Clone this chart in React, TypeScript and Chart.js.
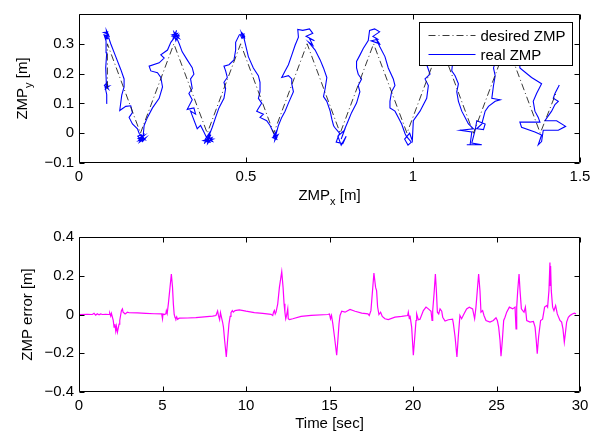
import React, { useEffect, useRef } from "react";
import { Chart, registerables } from "chart.js";

Chart.register(...registerables);

const FONT = "'Liberation Sans', Arial, Helvetica, sans-serif";
const FS = 15;

// ---------- top plot: ZMP trajectory ----------
const zmpXTicks = [0, 0.5, 1, 1.5];
const zmpYTicks = [-0.1, 0, 0.1, 0.2, 0.3];
const legendLabels = ["desired ZMP", "real ZMP"];

const desiredX = [0.085, 0.085, 0.184, 0.284, 0.384, 0.484, 0.583, 0.683, 0.782, 0.882, 0.982, 1.082, 1.181, 1.281, 1.381, 1.43];
const desiredY = [0.15, 0.3, 0, 0.3, 0, 0.3, 0, 0.3, 0, 0.3, 0, 0.3, 0, 0.3, 0, 0.14];

const realZmp: [number, number][] = [
  [0.082, 0.100], [0.083, 0.130], [0.078, 0.155], [0.090, 0.158], [0.080, 0.150], [0.086, 0.165], [0.079, 0.145], [0.084, 0.170],
  [0.076, 0.160], [0.088, 0.148], [0.082, 0.162],
  [0.080, 0.220], [0.083, 0.270], [0.081, 0.310], [0.075, 0.330], [0.090, 0.325], [0.082, 0.345], [0.085, 0.318], [0.078, 0.322], [0.088, 0.332],
  [0.074, 0.338], [0.086, 0.340], [0.080, 0.315], [0.089, 0.320],
  [0.095, 0.300], [0.110, 0.257], [0.125, 0.214], [0.135, 0.182], [0.135, 0.155], [0.128, 0.128], [0.122, 0.076], [0.140, 0.090],
  [0.155, 0.092], [0.160, 0.069], [0.150, 0.053], [0.160, 0.031], [0.175, 0.015],
  [0.180, 0.000], [0.192, -0.020], [0.178, -0.025], [0.195, -0.008], [0.183, -0.015], [0.198, -0.022], [0.186, -0.005],
  [0.176, -0.010], [0.190, -0.028], [0.200, -0.015], [0.181, -0.030], [0.195, 0.000], [0.188, -0.025], [0.177, -0.018], [0.192, -0.010],
  [0.195, 0.026], [0.205, 0.053], [0.220, 0.085], [0.240, 0.117], [0.250, 0.155], [0.245, 0.187], [0.235, 0.203], [0.215, 0.209],
  [0.210, 0.225], [0.240, 0.236], [0.255, 0.252], [0.245, 0.263], [0.265, 0.279], [0.275, 0.305],
  [0.285, 0.320], [0.295, 0.335], [0.278, 0.330], [0.300, 0.318], [0.284, 0.340], [0.290, 0.310], [0.298, 0.330], [0.282, 0.318],
  [0.292, 0.345], [0.287, 0.325], [0.302, 0.326], [0.280, 0.324], [0.294, 0.316],
  [0.300, 0.300], [0.309, 0.273], [0.324, 0.246], [0.339, 0.220], [0.344, 0.198], [0.334, 0.182], [0.339, 0.150], [0.329, 0.133],
  [0.339, 0.112], [0.324, 0.080], [0.344, 0.085], [0.349, 0.064], [0.334, 0.074], [0.354, 0.015], [0.364, 0.026], [0.374, 0.004],
  [0.380, -0.010], [0.392, -0.030], [0.372, -0.025], [0.398, -0.015], [0.385, -0.035], [0.390, 0.000], [0.378, -0.020], [0.400, -0.028], [0.388, -0.010],
  [0.375, -0.035], [0.395, -0.005], [0.383, -0.028], [0.402, -0.020], [0.386, -0.018],
  [0.399, 0.020], [0.409, 0.053], [0.419, 0.085], [0.434, 0.117], [0.439, 0.150], [0.434, 0.171], [0.444, 0.187], [0.439, 0.209],
  [0.434, 0.225], [0.449, 0.230], [0.464, 0.246], [0.469, 0.279], [0.469, 0.305],
  [0.480, 0.330], [0.490, 0.335], [0.496, 0.325], [0.488, 0.318], [0.484, 0.328], [0.494, 0.332], [0.490, 0.322],
  [0.486, 0.338], [0.497, 0.318], [0.492, 0.328],
  [0.507, 0.257], [0.522, 0.219], [0.537, 0.193], [0.542, 0.171], [0.542, 0.139], [0.537, 0.117], [0.547, 0.101], [0.532, 0.074],
  [0.552, 0.064], [0.542, 0.053], [0.562, 0.042], [0.572, 0.026],
  [0.585, -0.005], [0.592, -0.020], [0.580, -0.015], [0.596, -0.005], [0.586, -0.025], [0.590, 0.005], [0.582, -0.010],
  [0.594, -0.015], [0.588, -0.012],
  [0.597, 0.026], [0.607, 0.053], [0.617, 0.074], [0.627, 0.101], [0.642, 0.139], [0.637, 0.166], [0.637, 0.182], [0.627, 0.193],
  [0.607, 0.187], [0.617, 0.209], [0.627, 0.230], [0.637, 0.262], [0.647, 0.295], [0.657, 0.322],
  [0.655, 0.348], [0.670, 0.345], [0.690, 0.350], [0.700, 0.335], [0.680, 0.325], [0.705, 0.310], [0.690, 0.318], [0.700, 0.295], [0.688, 0.305],
  [0.707, 0.279], [0.722, 0.246], [0.732, 0.219], [0.742, 0.187], [0.737, 0.150], [0.732, 0.123], [0.742, 0.107], [0.752, 0.074],
  [0.757, 0.047], [0.762, 0.026],
  [0.765, 0.020], [0.780, 0.000], [0.770, -0.030], [0.790, -0.035], [0.800, -0.010], [0.785, -0.040], [0.775, -0.010], [0.795, 0.010], [0.785, -0.020],
  [0.796, 0.015], [0.806, 0.042], [0.816, 0.069], [0.831, 0.101], [0.841, 0.139], [0.836, 0.160], [0.846, 0.182], [0.836, 0.198],
  [0.831, 0.219], [0.831, 0.241], [0.841, 0.262], [0.851, 0.284], [0.866, 0.311],
  [0.870, 0.345], [0.885, 0.350], [0.900, 0.340], [0.880, 0.325], [0.895, 0.315], [0.875, 0.310], [0.900, 0.300], [0.888, 0.320],
  [0.901, 0.289], [0.916, 0.257], [0.926, 0.219], [0.941, 0.182], [0.946, 0.160], [0.936, 0.139], [0.931, 0.107], [0.931, 0.085],
  [0.946, 0.074], [0.956, 0.053], [0.966, 0.031], [0.976, -0.001],
  [0.980, -0.010], [0.995, -0.030], [0.985, -0.040], [0.975, -0.020], [0.990, 0.000], [0.998, -0.025],
  [1.001, 0.042], [1.021, 0.074], [1.041, 0.117], [1.046, 0.160], [1.036, 0.182], [1.051, 0.198], [1.041, 0.230], [1.060, 0.260], [1.075, 0.300],
  [1.085, 0.330], [1.095, 0.340], [1.080, 0.320], [1.100, 0.310], [1.090, 0.325],
  [1.110, 0.280], [1.120, 0.250], [1.116, 0.209], [1.126, 0.193], [1.136, 0.166], [1.131, 0.139], [1.136, 0.107], [1.146, 0.074],
  [1.156, 0.053], [1.166, 0.031],
  [1.181, 0.015], [1.141, 0.010], [1.176, 0.004], [1.171, -0.039], [1.161, -0.039], [1.206, -0.039], [1.176, -0.033], [1.186, 0.010],
  [1.191, 0.042], [1.216, 0.031], [1.211, 0.012], [1.191, 0.015],
  [1.206, 0.031], [1.216, 0.074], [1.226, 0.090], [1.246, 0.107], [1.261, 0.112], [1.236, 0.117], [1.241, 0.160], [1.246, 0.193],
  [1.241, 0.219], [1.246, 0.236], [1.260, 0.280], [1.275, 0.310],
  [1.285, 0.330], [1.295, 0.340], [1.280, 0.320], [1.300, 0.310], [1.290, 0.330],
  [1.310, 0.280], [1.320, 0.250], [1.320, 0.219], [1.355, 0.187], [1.385, 0.166], [1.370, 0.133], [1.360, 0.107], [1.365, 0.074], [1.375, 0.053],
  [1.380, 0.037], [1.320, 0.037], [1.325, 0.020], [1.365, 0.004], [1.385, -0.006], [1.375, -0.039], [1.385, -0.028], [1.390, 0.010],
  [1.435, 0.010], [1.457, 0.023], [1.430, 0.042], [1.395, 0.042],
  [1.415, 0.074], [1.425, 0.096], [1.435, 0.107], [1.420, 0.117], [1.425, 0.133], [1.435, 0.155], [1.438, 0.162],
];

// ---------- bottom plot: ZMP error vs time ----------
const timeTicks = [0, 5, 10, 15, 20, 25, 30];
const errorTicks = [-0.4, -0.2, 0, 0.2, 0.4];

const zmpError: [number, number][] = [
  [0, 0], [0.5, 0.001], [0.8, 0.0], [0.9, 0.006], [1.0, -0.003], [1.1, 0.004], [1.2, -0.002], [1.3, 0.003], [1.4, 0.0], [1.6, 0.001], [1.8, 0.0],
  [1.84, 0.007], [1.9, -0.008], [1.94, 0.006], [2.0, -0.014], [2.05, -0.03], [2.1, -0.065], [2.15, -0.05], [2.2, -0.085], [2.24, -0.06],
  [2.3, -0.091], [2.35, -0.07], [2.4, -0.05], [2.44, -0.031], [2.5, 0.0], [2.54, 0.02], [2.6, 0.029], [2.64, 0.012], [2.7, 0.008],
  [2.76, 0.003], [2.9, 0.012], [3.0, 0.009], [3.5, 0.008], [4.0, 0.006], [4.5, 0.004], [4.95, 0.003],
  [5.0, -0.022], [5.03, 0.003], [5.1, 0.0], [5.2, 0.004], [5.23, 0.02], [5.28, 0.005], [5.35, 0.055], [5.45, 0.14], [5.53, 0.209],
  [5.6, 0.14], [5.65, 0.055], [5.7, 0.0], [5.75, -0.015], [5.8, -0.022], [5.85, -0.012], [5.9, -0.025], [6.0, -0.019], [6.5, -0.018],
  [7.0, -0.016], [7.5, -0.012], [8.0, -0.008], [8.2, -0.005],
  [8.3, 0.018], [8.35, -0.005], [8.42, -0.027], [8.47, 0.01], [8.52, -0.01], [8.6, -0.04], [8.65, -0.065], [8.72, -0.133], [8.82, -0.219],
  [8.9, -0.13], [8.98, -0.048], [9.05, -0.01], [9.1, 0.01], [9.18, 0.02], [9.24, 0.012], [9.34, 0.02], [9.6, 0.024], [10.0, 0.017],
  [10.5, 0.01], [11.0, 0.006], [11.5, 0.001], [11.6, -0.005], [11.65, 0.012], [11.7, 0.021], [11.75, 0.003], [11.8, 0.012],
  [11.9, 0.055], [12.0, 0.14], [12.14, 0.221], [12.22, 0.14], [12.28, 0.055], [12.33, 0.012], [12.38, -0.022], [12.43, -0.005],
  [12.5, 0.029], [12.53, -0.022], [12.6, -0.026], [12.8, -0.022], [13.3, -0.01], [13.9, -0.005], [14.9, 0.0],
  [15.0, 0.003], [15.06, -0.022], [15.12, -0.005], [15.2, -0.048], [15.3, -0.116], [15.43, -0.21], [15.5, -0.133], [15.57, -0.048],
  [15.63, -0.005], [15.73, 0.017], [15.93, 0.012], [16.23, 0.026], [16.53, 0.017], [16.93, 0.007], [17.3, 0.003],
  [17.38, -0.005], [17.48, 0.02], [17.56, 0.106], [17.66, 0.214], [17.76, 0.14], [17.82, 0.123], [17.88, 0.04], [17.96, 0.0],
  [18.06, 0.012], [18.16, -0.01], [18.32, -0.022], [18.52, -0.026], [18.92, -0.014], [19.32, -0.01], [19.68, -0.005],
  [19.72, 0.012], [19.78, -0.022],
  [19.82, -0.005], [19.92, -0.065], [20.02, -0.21], [20.12, -0.1], [20.18, -0.031], [20.22, 0.003], [20.32, -0.027], [20.42, -0.024],
  [20.62, 0.02], [20.78, 0.038], [20.92, 0.029], [21.08, 0.017], [21.14, -0.031], [21.18, 0.02], [21.26, 0.106], [21.34, 0.209],
  [21.4, 0.123], [21.46, 0.012], [21.54, 0.003], [21.62, 0.029], [21.72, 0.017], [21.78, -0.014], [21.92, -0.034], [22.12, -0.027],
  [22.37, -0.024], [22.42, -0.048], [22.52, -0.116], [22.63, -0.219], [22.71, -0.116], [22.81, -0.005], [22.91, -0.022], [23.05, 0.003],
  [23.21, 0.029], [23.37, 0.038], [23.57, 0.029], [23.69, -0.022], [23.77, 0.038], [23.85, 0.123], [23.93, 0.209], [24.01, 0.123],
  [24.07, 0.012], [24.17, 0.02], [24.25, -0.005], [24.37, -0.031], [24.61, -0.039], [24.81, -0.031], [24.97, -0.017], [25.05, -0.031],
  [25.13, -0.065], [25.21, -0.133], [25.27, -0.215], [25.35, -0.133], [25.43, -0.031], [25.51, -0.014], [25.61, 0.012], [25.77, 0.038],
  [25.97, 0.029], [26.11, 0.038], [26.17, -0.074], [26.21, 0.038], [26.27, 0.123], [26.35, 0.209], [26.41, 0.123], [26.49, 0.029],
  [26.57, 0.02], [26.65, 0.012], [26.73, 0.038], [26.81, -0.031], [27.01, -0.039], [27.21, -0.036], [27.31, -0.065], [27.38, -0.133],
  [27.44, -0.202], [27.52, -0.116], [27.64, -0.031], [27.76, -0.024], [27.88, 0.038], [28.0, 0.046], [28.06, 0.038], [28.14, 0.123],
  [28.2, 0.268], [28.22, 0.15], [28.24, 0.25], [28.28, 0.123], [28.36, 0.038], [28.44, 0.02], [28.54, 0.046], [28.64, 0.003], [28.8, -0.031],
  [28.9, -0.039], [28.98, -0.074], [29.06, -0.142], [29.12, -0.1], [29.2, -0.039], [29.3, -0.014], [29.4, -0.005], [29.54, 0.003],
  [29.66, 0.007], [29.76, 0.003],
];

const topTitles = { x: [["ZMP", false], ["x", true], [" [m]", false]], y: [["ZMP", false], ["y", true], [" [m]", false]] } as const;
const bottomTitles = { x: [["Time [sec]", false]], y: [["ZMP error [m]", false]] } as const;

const fmt = (v: number) => (v < 0 ? "\u2212" + String(+(-v).toFixed(2)) : String(+v.toFixed(2)));

function drawRich(ctx: CanvasRenderingContext2D, parts: readonly (readonly [string, boolean])[], x: number, y: number, angle: number) {
  const main = `${FS}px ${FONT}`;
  const sub = `11px ${FONT}`;
  ctx.save();
  ctx.translate(x, y);
  ctx.rotate(angle);
  let total = 0;
  parts.forEach(([t, s]) => {
    ctx.font = s ? sub : main;
    total += ctx.measureText(t).width;
  });
  let cx = -total / 2;
  ctx.fillStyle = "#000";
  ctx.textAlign = "left";
  ctx.textBaseline = "alphabetic";
  parts.forEach(([t, s]) => {
    ctx.font = s ? sub : main;
    ctx.fillText(t, cx, s ? 5 : 0);
    cx += ctx.measureText(t).width;
  });
  ctx.restore();
}

function framePlugin(opts: { xTitle: any; yTitle: any; xTitleY: number; yTitleX: number; legend: boolean }) {
  return {
    id: "matlabFrame",
    afterDatasetsDraw(chart: any) {
      const { ctx, chartArea: a, scales } = chart;
      const L = Math.round(a.left) + 0.5, R = Math.round(a.right) - 0.5;
      const T = Math.round(a.top) + 0.5, B = Math.round(a.bottom) - 0.5;
      ctx.save();
      ctx.strokeStyle = "#000";
      ctx.lineWidth = 1;
      ctx.beginPath();
      ctx.rect(L, T, R - L, B - T);
      const tl = 5;
      scales.x.ticks.forEach((t: any) => {
        const p = Math.round(scales.x.getPixelForValue(t.value)) + 0.5;
        ctx.moveTo(p, B); ctx.lineTo(p, B - tl);
        ctx.moveTo(p, T); ctx.lineTo(p, T + tl);
      });
      scales.y.ticks.forEach((t: any) => {
        const p = Math.round(scales.y.getPixelForValue(t.value)) + 0.5;
        ctx.moveTo(L, p); ctx.lineTo(L + tl, p);
        ctx.moveTo(R, p); ctx.lineTo(R - tl, p);
      });
      ctx.stroke();

      if (opts.legend) {
        const bw = 153, bh = 43;
        const bx = Math.round(a.right) - 8 - bw + 0.5;
        const by = Math.round(a.top) + 8 + 0.5;
        ctx.fillStyle = "#fff";
        ctx.fillRect(bx, by, bw, bh);
        ctx.strokeStyle = "#000";
        ctx.lineWidth = 1;
        ctx.strokeRect(bx, by, bw, bh);
        chart.data.datasets.forEach((ds: any, i: number) => {
          const ly = by + 13 + i * 19;
          ctx.save();
          ctx.strokeStyle = ds.borderColor;
          ctx.lineWidth = ds.borderWidth;
          ctx.setLineDash(ds.borderDash || []);
          ctx.beginPath();
          ctx.moveTo(bx + 9, ly);
          ctx.lineTo(bx + 56, ly);
          ctx.stroke();
          ctx.restore();
          ctx.fillStyle = "#000";
          ctx.font = `${FS}px ${FONT}`;
          ctx.textAlign = "left";
          ctx.textBaseline = "middle";
          ctx.fillText(ds.label, bx + 61, ly + 1);
        });
      }

      const cxm = (a.left + a.right) / 2;
      const cym = (a.top + a.bottom) / 2;
      drawRich(ctx, opts.xTitle, cxm, opts.xTitleY, 0);
      drawRich(ctx, opts.yTitle, opts.yTitleX, cym, -Math.PI / 2);
      ctx.restore();
    },
  };
}

function axes(xMin: number, xMax: number, xTicks: number[], yMin: number, yMax: number, yTicks: number[], xH: number) {
  return {
    x: {
      type: "linear",
      min: xMin,
      max: xMax,
      afterBuildTicks: (s: any) => { s.ticks = xTicks.map((v) => ({ value: v })); },
      afterFit: (s: any) => { s.height = xH; },
      grid: { display: false, drawTicks: false },
      border: { display: false },
      ticks: { padding: 5, color: "#000", font: { family: FONT, size: FS }, callback: (v: any) => fmt(Number(v)), maxRotation: 0, autoSkip: false },
    },
    y: {
      type: "linear",
      min: yMin,
      max: yMax,
      afterBuildTicks: (s: any) => { s.ticks = yTicks.map((v) => ({ value: v })); },
      afterFit: (s: any) => { s.width = 79; },
      grid: { display: false, drawTicks: false },
      border: { display: false },
      ticks: { padding: 5, color: "#000", font: { family: FONT, size: FS }, callback: (v: any) => fmt(Number(v)), autoSkip: false },
    },
  };
}

export default function App() {
  const topRef = useRef<HTMLCanvasElement>(null);
  const botRef = useRef<HTMLCanvasElement>(null);

  useEffect(() => {
    const top = new Chart(topRef.current!, {
      type: "scatter",
      data: {
        datasets: [
          {
            label: legendLabels[0],
            data: desiredX.map((x, i) => ({ x, y: desiredY[i] })),
            showLine: true,
            borderColor: "#222",
            borderWidth: 0.9,
            borderDash: [7, 3, 1, 3],
            pointRadius: 0,
            tension: 0,
          },
          {
            label: legendLabels[1],
            data: realZmp.map(([x, y]) => ({ x, y })),
            showLine: true,
            borderColor: "#0000ff",
            borderWidth: 1.1,
            pointRadius: 0,
            tension: 0,
          },
        ],
      },
      options: {
        responsive: false,
        animation: false,
        layout: { padding: { left: 0, right: 18, top: 6, bottom: 0 } },
        plugins: { legend: { display: false }, tooltip: { enabled: false } },
        scales: axes(0, 1.5, zmpXTicks, -0.1, 0.4, zmpYTicks, 47) as any,
      },
      plugins: [framePlugin({ xTitle: topTitles.x, yTitle: topTitles.y, xTitleY: 200, yTitleX: 27, legend: true })],
    });

    const bot = new Chart(botRef.current!, {
      type: "scatter",
      data: {
        datasets: [
          {
            label: "ZMP error",
            data: zmpError.map(([x, y]) => ({ x, y })),
            showLine: true,
            borderColor: "#ff00ff",
            borderWidth: 1.2,
            pointRadius: 0,
            tension: 0,
          },
        ],
      },
      options: {
        responsive: false,
        animation: false,
        layout: { padding: { left: 0, right: 18, top: 19, bottom: 0 } },
        plugins: { legend: { display: false }, tooltip: { enabled: false } },
        scales: axes(0, 30, timeTicks, -0.4, 0.4, errorTicks, 44) as any,
      },
      plugins: [framePlugin({ xTitle: bottomTitles.x, yTitle: bottomTitles.y, xTitleY: 210, yTitleX: 32, legend: false })],
    });

    return () => {
      top.destroy();
      bot.destroy();
    };
  }, []);

  return (
    <div style={{ position: "absolute", left: 0, top: 0, width: 598, height: 436, background: "#fff" }}>
      <canvas ref={topRef} width={598} height={210} style={{ position: "absolute", left: 0, top: 0, width: 598, height: 210 }} />
      <canvas ref={botRef} width={598} height={218} style={{ position: "absolute", left: 0, top: 218, width: 598, height: 218 }} />
    </div>
  );
}
